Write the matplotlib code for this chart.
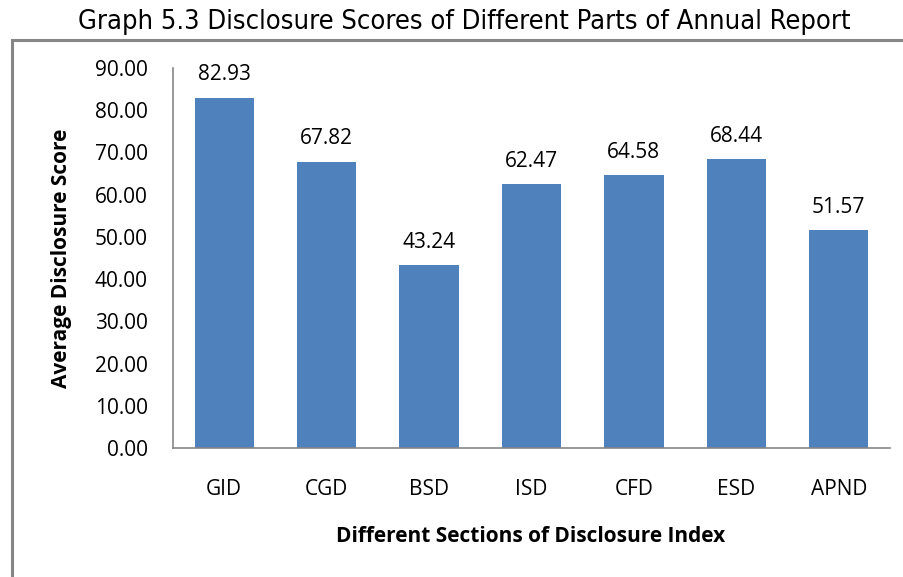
import matplotlib.pyplot as plt
from matplotlib.patches import Rectangle
import numpy as np

sections = ['GID', 'CGD', 'BSD', 'ISD', 'CFD', 'ESD', 'APND']
scores = [82.93, 67.82, 43.24, 62.47, 64.58, 68.44, 51.57]

W, H = 904, 577
fig = plt.figure(figsize=(W / 100, H / 100), dpi=100)

# outer chart border (clipped on right/bottom like the source)
fig.patches.append(Rectangle((12 / W, -0.05), 1.0, 1 - 40 / H + 0.05,
                             transform=fig.transFigure, fill=False,
                             edgecolor='#868686', linewidth=2.2))

ax = fig.add_axes([173 / W, 1 - 448 / H, (890 - 173) / W, (448 - 68) / H])
x = np.arange(len(sections))
bars = ax.bar(x, scores, width=0.58, color='#4f81bd')
ax.set_xlim(-0.5, len(sections) - 0.5)
ax.set_ylim(0, 90)
ax.set_yticks(np.arange(0, 91, 10))
ax.set_yticklabels([f'{v:.2f}' for v in np.arange(0, 91, 10)])
ax.set_xticks(x)
ax.set_xticklabels(sections)

font = 'Open Sans'
fs = 15
for lab in ax.get_yticklabels() + ax.get_xticklabels():
    lab.set_family(font)
    lab.set_fontsize(fs)
ax.tick_params(axis='y', length=0, pad=18)
ax.tick_params(axis='x', length=0, pad=22)

for s in ['top', 'right']:
    ax.spines[s].set_visible(False)
for s in ['left', 'bottom']:
    ax.spines[s].set_color('#868686')
    ax.spines[s].set_linewidth(1.2)

for xi, v in zip(x, scores):
    ax.annotate(f'{v:.2f}', (xi, v), xytext=(0, 9), textcoords='offset points',
                ha='center', va='bottom', family=font, fontsize=fs)

fig.text(62 / W, 1 - 258 / H, 'Average Disclosure Score', rotation=90,
         ha='center', va='center', family=font, fontweight='bold', fontsize=fs)
fig.text(531 / W, 1 - 537 / H, 'Different Sections of Disclosure Index',
         ha='center', va='center', family=font, fontweight='bold', fontsize=fs)
fig.text(464 / W, 1 - 22 / H, 'Graph 5.3 Disclosure Scores of Different Parts of Annual Report',
         ha='center', va='center', family='DejaVu Sans', fontstretch='condensed',
         fontsize=19.5)

fig.savefig('out.png', dpi=100)
